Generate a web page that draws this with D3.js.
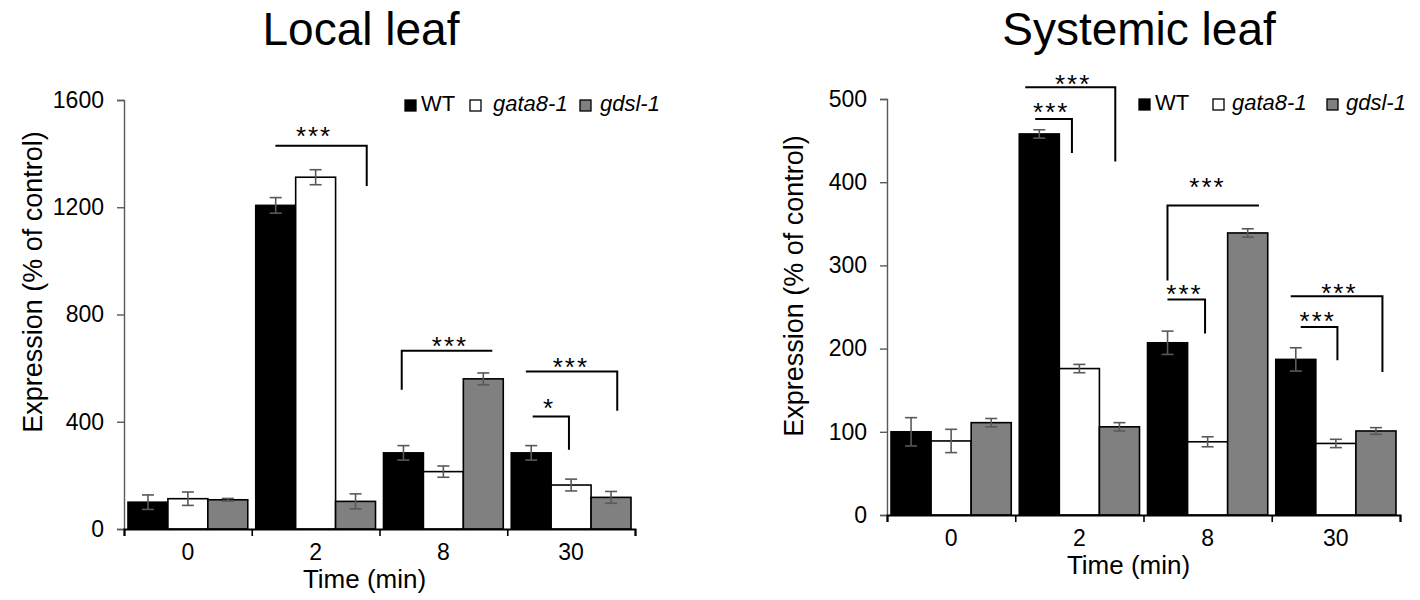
<!DOCTYPE html>
<html>
<head>
<meta charset="utf-8">
<script src="https://cdn.jsdelivr.net/npm/d3@7"></script>
<style>
  body { margin: 0; background: #fff; }
  svg { font-family: "Liberation Sans", Arial, sans-serif; }
</style>
</head>
<body>
<svg id="chart" width="1420" height="600"></svg>
<script>
// categories
const times = ["0", "2", "8", "30"];
const genotypes = ["WT", "gata8-1", "gdsl-1"];
const colors = ["#000000", "#ffffff", "#808080"];

// local leaf (% of control)
const localWT = [100, 1207, 284, 284];
const localWTErr = [27, 29, 27, 27];
const localGata = [113, 1312, 214, 164];
const localGataErr = [25, 28, 21, 22];
const localGdsl = [109, 103, 560, 118];
const localGdslErr = [5, 28, 22, 22];
const localTicks = [0, 400, 800, 1200, 1600];

// systemic leaf (% of control)
const systemicWT = [100, 458, 207, 187];
const systemicWTErr = [17, 5, 14, 14];
const systemicGata = [89, 176, 88, 86];
const systemicGataErr = [14, 5, 6, 5];
const systemicGdsl = [111, 106, 339, 101];
const systemicGdslErr = [5, 5, 5, 4];
const systemicTicks = [0, 100, 200, 300, 400, 500];

// significance brackets: x in fraction of the time band, y in data units
const localBrackets = [
  {time: "2", x1: 0.185, x2: 0.90, top: 1429, end: 1279, hook: "right", label: "***", lx: 0.48, ly: 1488},
  {time: "8", x1: 0.174, x2: 0.883, top: 665, end: 519, hook: "left", label: "***", lx: 0.544, ly: 706},
  {time: "30", x1: 0.199, x2: 0.483, top: 420, end: 296, hook: "right", label: "*", lx: 0.32, ly: 472},
  {time: "30", x1: 0.146, x2: 0.861, top: 587, end: 441, hook: "right", label: "***", lx: 0.49, ly: 628},
];
const systemicBrackets = [
  {time: "2", x1: 0.156, x2: 0.442, top: 476, end: 435, hook: "right", label: "***", lx: 0.273, ly: 491},
  {time: "2", x1: 0.078, x2: 0.78, top: 514, end: 425, hook: "right", label: "***", lx: 0.444, ly: 525},
  {time: "8", x1: 0.187, x2: 0.90, top: 372, end: 282, hook: "left", label: "***", lx: 0.491, ly: 401},
  {time: "8", x1: 0.187, x2: 0.48, top: 259, end: 218, hook: "right", label: "***", lx: 0.312, ly: 273},
  {time: "30", x1: 0.226, x2: 0.512, top: 226, end: 186, hook: "right", label: "***", lx: 0.351, ly: 240},
  {time: "30", x1: 0.148, x2: 0.863, top: 263, end: 172, hook: "right", label: "***", lx: 0.52, ly: 274},
];

const svg = d3.select("#chart");

function drawChart(cfg) {
  const g = svg.append("g");

  const x = d3.scaleBand().domain(times).range([cfg.left, cfg.right]);
  const xInner = d3.scaleBand().domain(genotypes).range([0, x.bandwidth()]).paddingOuter(0.1);
  const y = d3.scaleLinear().domain([0, cfg.ticks[cfg.ticks.length - 1]]).range([cfg.bottom, cfg.top]);

  const rows = [];
  times.forEach((t, i) => {
    genotypes.forEach((gt, j) => {
      rows.push({time: t, geno: gt, color: colors[j], value: cfg.series[j][i], err: cfg.errors[j][i]});
    });
  });

  // title
  g.append("text")
    .attr("x", cfg.titleX)
    .attr("y", 45)
    .attr("text-anchor", "middle")
    .attr("font-size", "46px")
    .text(cfg.title);

  // bars
  g.selectAll("rect.bar")
    .data(rows)
    .enter().append("rect")
    .attr("class", "bar")
    .attr("x", (d) => x(d.time) + xInner(d.geno))
    .attr("y", (d) => y(d.value))
    .attr("width", xInner.bandwidth())
    .attr("height", (d) => y(0) - y(d.value))
    .attr("fill", (d) => d.color)
    .attr("stroke", "#000")
    .attr("stroke-width", 1.6);

  // error bars
  const eb = g.selectAll("g.err")
    .data(rows)
    .enter().append("g")
    .attr("class", "err")
    .attr("stroke", "#595959")
    .attr("stroke-width", 1.6);
  const cx = (d) => x(d.time) + xInner(d.geno) + xInner.bandwidth() / 2;
  eb.append("line")
    .attr("x1", cx).attr("x2", cx)
    .attr("y1", (d) => y(d.value - d.err))
    .attr("y2", (d) => y(d.value + d.err));
  [-1, 1].forEach((s) => {
    eb.append("line")
      .attr("x1", (d) => cx(d) - 6).attr("x2", (d) => cx(d) + 6)
      .attr("y1", (d) => y(d.value + s * d.err))
      .attr("y2", (d) => y(d.value + s * d.err));
  });

  // y axis
  const yAxis = g.append("g")
    .attr("transform", "translate(" + cfg.left + ",0)")
    .call(d3.axisLeft(y).tickValues(cfg.ticks).tickFormat(d3.format("d")).tickSize(7).tickPadding(13));
  yAxis.attr("font-size", 23).attr("font-family", "Liberation Sans, Arial, sans-serif");
  yAxis.selectAll("path, line").attr("stroke", "#595959").attr("stroke-width", 1.4);
  yAxis.selectAll("text").attr("fill", "#000");

  // x axis: boundary ticks and category labels
  const xEdge = d3.scaleLinear().domain([0, times.length]).range([cfg.left, cfg.right]);
  const xAxis = g.append("g")
    .attr("transform", "translate(0," + cfg.bottom + ")")
    .call(d3.axisBottom(xEdge).ticks(times.length).tickSize(7).tickFormat(""));
  xAxis.selectAll("path").attr("stroke", "#000").attr("stroke-width", 2);
  xAxis.selectAll("line").attr("stroke", "#000").attr("stroke-width", 1.6);

  const xLab = g.append("g")
    .attr("transform", "translate(0," + cfg.bottom + ")")
    .call(d3.axisBottom(x).tickSize(0).tickPadding(15));
  xLab.attr("font-size", 23).attr("font-family", "Liberation Sans, Arial, sans-serif");
  xLab.select("path").remove();
  xLab.selectAll("text").attr("fill", "#000");

  // axis titles
  g.append("text")
    .attr("x", (cfg.left + cfg.right) / 2 - 15)
    .attr("y", cfg.bottom + 59)
    .attr("text-anchor", "middle")
    .attr("font-size", "26px")
    .text("Time (min)");

  g.append("text")
    .attr("transform", "translate(" + cfg.yLabelX + "," + cfg.yLabelY + ") rotate(-90)")
    .attr("text-anchor", "middle")
    .attr("dominant-baseline", "central")
    .attr("font-size", "27px")
    .text("Expression (% of control)");

  // significance brackets
  const bw = x.bandwidth();
  const br = g.selectAll("g.bracket")
    .data(cfg.brackets)
    .enter().append("g")
    .attr("class", "bracket");
  br.append("path")
    .attr("fill", "none")
    .attr("stroke", "#000")
    .attr("stroke-width", 2)
    .attr("d", (d) => {
      const a = x(d.time) + d.x1 * bw, b = x(d.time) + d.x2 * bw;
      const yt = y(d.top), ye = y(d.end);
      if (d.hook === "left") return "M" + a + "," + ye + "V" + yt + "H" + b;
      return "M" + a + "," + yt + "H" + b + "V" + ye;
    });
  br.append("text")
    .attr("x", (d) => x(d.time) + d.lx * bw + 1)
    .attr("y", (d) => y(d.ly) + 15)
    .attr("text-anchor", "middle")
    .attr("font-size", "26px")
    .attr("letter-spacing", "2px")
    .text((d) => d.label);

  // legend
  const leg = g.selectAll("g.legend")
    .data(genotypes)
    .enter().append("g")
    .attr("class", "legend")
    .attr("transform", (d, i) => "translate(" + cfg.legendX[i] + "," + cfg.legendY + ")");
  leg.append("rect")
    .attr("x", 0).attr("y", -11)
    .attr("width", 11).attr("height", 11)
    .attr("fill", (d, i) => colors[i])
    .attr("stroke", "#000")
    .attr("stroke-width", 1.3);
  leg.append("text")
    .attr("x", (d, i) => cfg.legendGap[i])
    .attr("y", 0)
    .attr("font-size", "22px")
    .attr("font-style", (d) => d === "WT" ? "normal" : "italic")
    .text((d) => d);
}

drawChart({
  title: "Local leaf", titleX: 361,
  left: 124, right: 635, top: 100, bottom: 529,
  ticks: localTicks,
  series: [localWT, localGata, localGdsl],
  errors: [localWTErr, localGataErr, localGdslErr],
  brackets: localBrackets,
  yLabelX: 33, yLabelY: 282,
  legendX: [405, 470, 580], legendGap: [16, 23, 20], legendY: 111,
});

drawChart({
  title: "Systemic leaf", titleX: 1139,
  left: 887, right: 1400, top: 99, bottom: 515,
  ticks: systemicTicks,
  series: [systemicWT, systemicGata, systemicGdsl],
  errors: [systemicWTErr, systemicGataErr, systemicGdslErr],
  brackets: systemicBrackets,
  yLabelX: 794, yLabelY: 286,
  legendX: [1139, 1213, 1327], legendGap: [16, 19, 19], legendY: 110,
});
</script>
</body>
</html>
